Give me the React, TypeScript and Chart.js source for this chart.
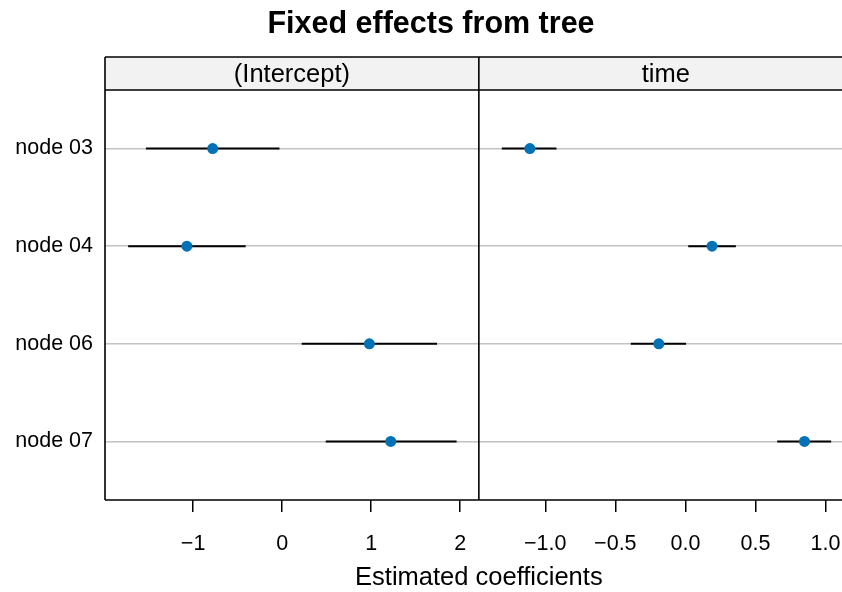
import React, { useEffect, useRef } from "react";
import { Chart, registerables } from "chart.js";

Chart.register(...registerables);

const titleText = "Fixed effects from tree";
const xAxisTitle = "Estimated coefficients";
const panelTitles = ["(Intercept)", "time"];
const nodeLabels = ["node 03", "node 04", "node 06", "node 07"];
const rowPositions = [1, 2, 3, 4];

const interceptEst = [-0.78, -1.07, 0.98, 1.22];
const interceptLow = [-1.53, -1.73, 0.22, 0.49];
const interceptHigh = [-0.03, -0.41, 1.74, 1.96];

const timeEst = [-1.11, 0.19, -0.19, 0.85];
const timeLow = [-1.31, 0.02, -0.39, 0.655];
const timeHigh = [-0.92, 0.36, 0.005, 1.04];

const interceptTicks = [-1, 0, 1, 2];
const interceptTickLabels = ["\u22121", "0", "1", "2"];
const timeTicks = [-1, -0.5, 0, 0.5, 1];
const timeTickLabels = ["\u22121.0", "\u22120.5", "0.0", "0.5", "1.0"];

const FONT = "'Liberation Sans', Arial, Helvetica, sans-serif";
const CANVAS_W = 848;

export default function App() {
  const ref = useRef<HTMLCanvasElement>(null);

  useEffect(() => {
    const canvas = ref.current;
    if (!canvas) return;

    const segments = (lo: number[], hi: number[], axis: string) =>
      lo.map((l, i) => ({
        type: "scatter" as const,
        data: [
          { x: l, y: rowPositions[i] },
          { x: hi[i], y: rowPositions[i] },
        ],
        xAxisID: axis,
        yAxisID: "y",
        showLine: true,
        borderColor: "#000000",
        borderWidth: 2,
        pointRadius: 0,
        order: 2,
      }));

    const points = (est: number[], axis: string) => ({
      type: "scatter" as const,
      data: est.map((v, i) => ({ x: v, y: rowPositions[i] })),
      xAxisID: axis,
      yAxisID: "y",
      backgroundColor: "#0072B5",
      borderColor: "#0072B5",
      pointRadius: 5.5,
      pointBorderWidth: 0,
      showLine: false,
      order: 1,
    });

    const panelPlugin = {
      id: "panelFrames",
      afterDraw(chart: any) {
        const ctx = chart.ctx;
        const area = chart.chartArea;
        const left = area.left;
        const divider = chart.scales.x1.right;
        const right = area.right;
        const stripH = 33;
        const stripTop = area.top - stripH;
        const panelW = divider - left;
        ctx.save();
        ctx.fillStyle = "#f2f2f2";
        ctx.fillRect(left, stripTop, divider - left, stripH);
        ctx.fillRect(divider, stripTop, right - divider, stripH);
        ctx.strokeStyle = "#000000";
        ctx.lineWidth = 1.6;
        ctx.beginPath();
        ctx.moveTo(left, stripTop);
        ctx.lineTo(right, stripTop);
        ctx.moveTo(left, area.top);
        ctx.lineTo(right, area.top);
        ctx.moveTo(left, area.bottom);
        ctx.lineTo(right, area.bottom);
        ctx.moveTo(left, stripTop);
        ctx.lineTo(left, area.bottom);
        ctx.moveTo(divider, stripTop);
        ctx.lineTo(divider, area.bottom);
        ctx.stroke();
        ctx.fillStyle = "#000000";
        ctx.textAlign = "center";
        ctx.textBaseline = "middle";
        ctx.font = `bold 30.5px ${FONT}`;
        ctx.fillText(titleText, 431, 25);
        ctx.font = `25.5px ${FONT}`;
        ctx.fillText(panelTitles[0], left + panelW / 2, stripTop + stripH / 2 + 1);
        ctx.fillText(panelTitles[1], divider + panelW / 2, stripTop + stripH / 2 + 1);
        ctx.fillText(xAxisTitle, divider, 578);
        ctx.restore();
      },
    };

    const xCommon = {
      type: "linear" as const,
      position: "bottom" as const,
      stack: "panels",
      border: { display: false },
      grid: {
        drawOnChartArea: false,
        drawTicks: true,
        tickLength: 12,
        color: "#000000",
        lineWidth: 1.5,
      },
      afterFit: (s: any) => {
        s.height = 92;
        s.paddingLeft = 0;
        s.paddingRight = 0;
      },
    };

    const tickFont = { family: FONT, size: 21.5 };

    const chart = new Chart(canvas, {
      type: "scatter",
      data: {
        datasets: [
          points(interceptEst, "x1"),
          points(timeEst, "x2"),
          ...segments(interceptLow, interceptHigh, "x1"),
          ...segments(timeLow, timeHigh, "x2"),
        ] as any,
      },
      options: {
        animation: false,
        responsive: false,
        events: [],
        layout: { padding: { left: 0, right: 0, top: 90, bottom: 0 } },
        plugins: {
          legend: { display: false },
          tooltip: { enabled: false },
          title: { display: false },
        },
        scales: {
          x1: {
            ...xCommon,
            stackWeight: 373.6,
            min: -1.99,
            max: 2.21,
            afterBuildTicks: (s: any) => {
              s.ticks = interceptTicks.map((v) => ({ value: v }));
            },
            ticks: {
              callback: (_v: any, i: number) => interceptTickLabels[i],
              autoSkip: false,
              maxRotation: 0,
              padding: 19,
              color: "#000000",
              font: tickFont,
            },
          },
          x2: {
            ...xCommon,
            stackWeight: 363.4,
            min: -1.474,
            max: 1.121,
            afterBuildTicks: (s: any) => {
              s.ticks = timeTicks.map((v) => ({ value: v }));
            },
            ticks: {
              callback: (_v: any, i: number) => timeTickLabels[i],
              autoSkip: false,
              maxRotation: 0,
              padding: 19,
              color: "#000000",
              font: tickFont,
            },
          },
          y: {
            type: "linear",
            reverse: true,
            min: 0.4,
            max: 4.6,
            afterBuildTicks: (s: any) => {
              s.ticks = rowPositions.map((v) => ({ value: v }));
            },
            afterFit: (s: any) => {
              s.width = 105;
              s.paddingTop = 0;
              s.paddingBottom = 0;
            },
            border: { display: false },
            grid: { color: "#c2c2c2", lineWidth: 1.5, drawTicks: false },
            ticks: {
              callback: (_v: any, i: number) => nodeLabels[i],
              autoSkip: false,
              padding: 12,
              color: "#000000",
              font: tickFont,
            },
          },
        },
      } as any,
      plugins: [panelPlugin],
    });

    return () => chart.destroy();
  }, []);

  return (
    <div style={{ position: "fixed", left: 0, top: 0, width: 842, height: 592, overflow: "hidden", background: "#ffffff" }}>
      <canvas ref={ref} width={CANVAS_W} height={592} style={{ display: "block" }} />
    </div>
  );
}
